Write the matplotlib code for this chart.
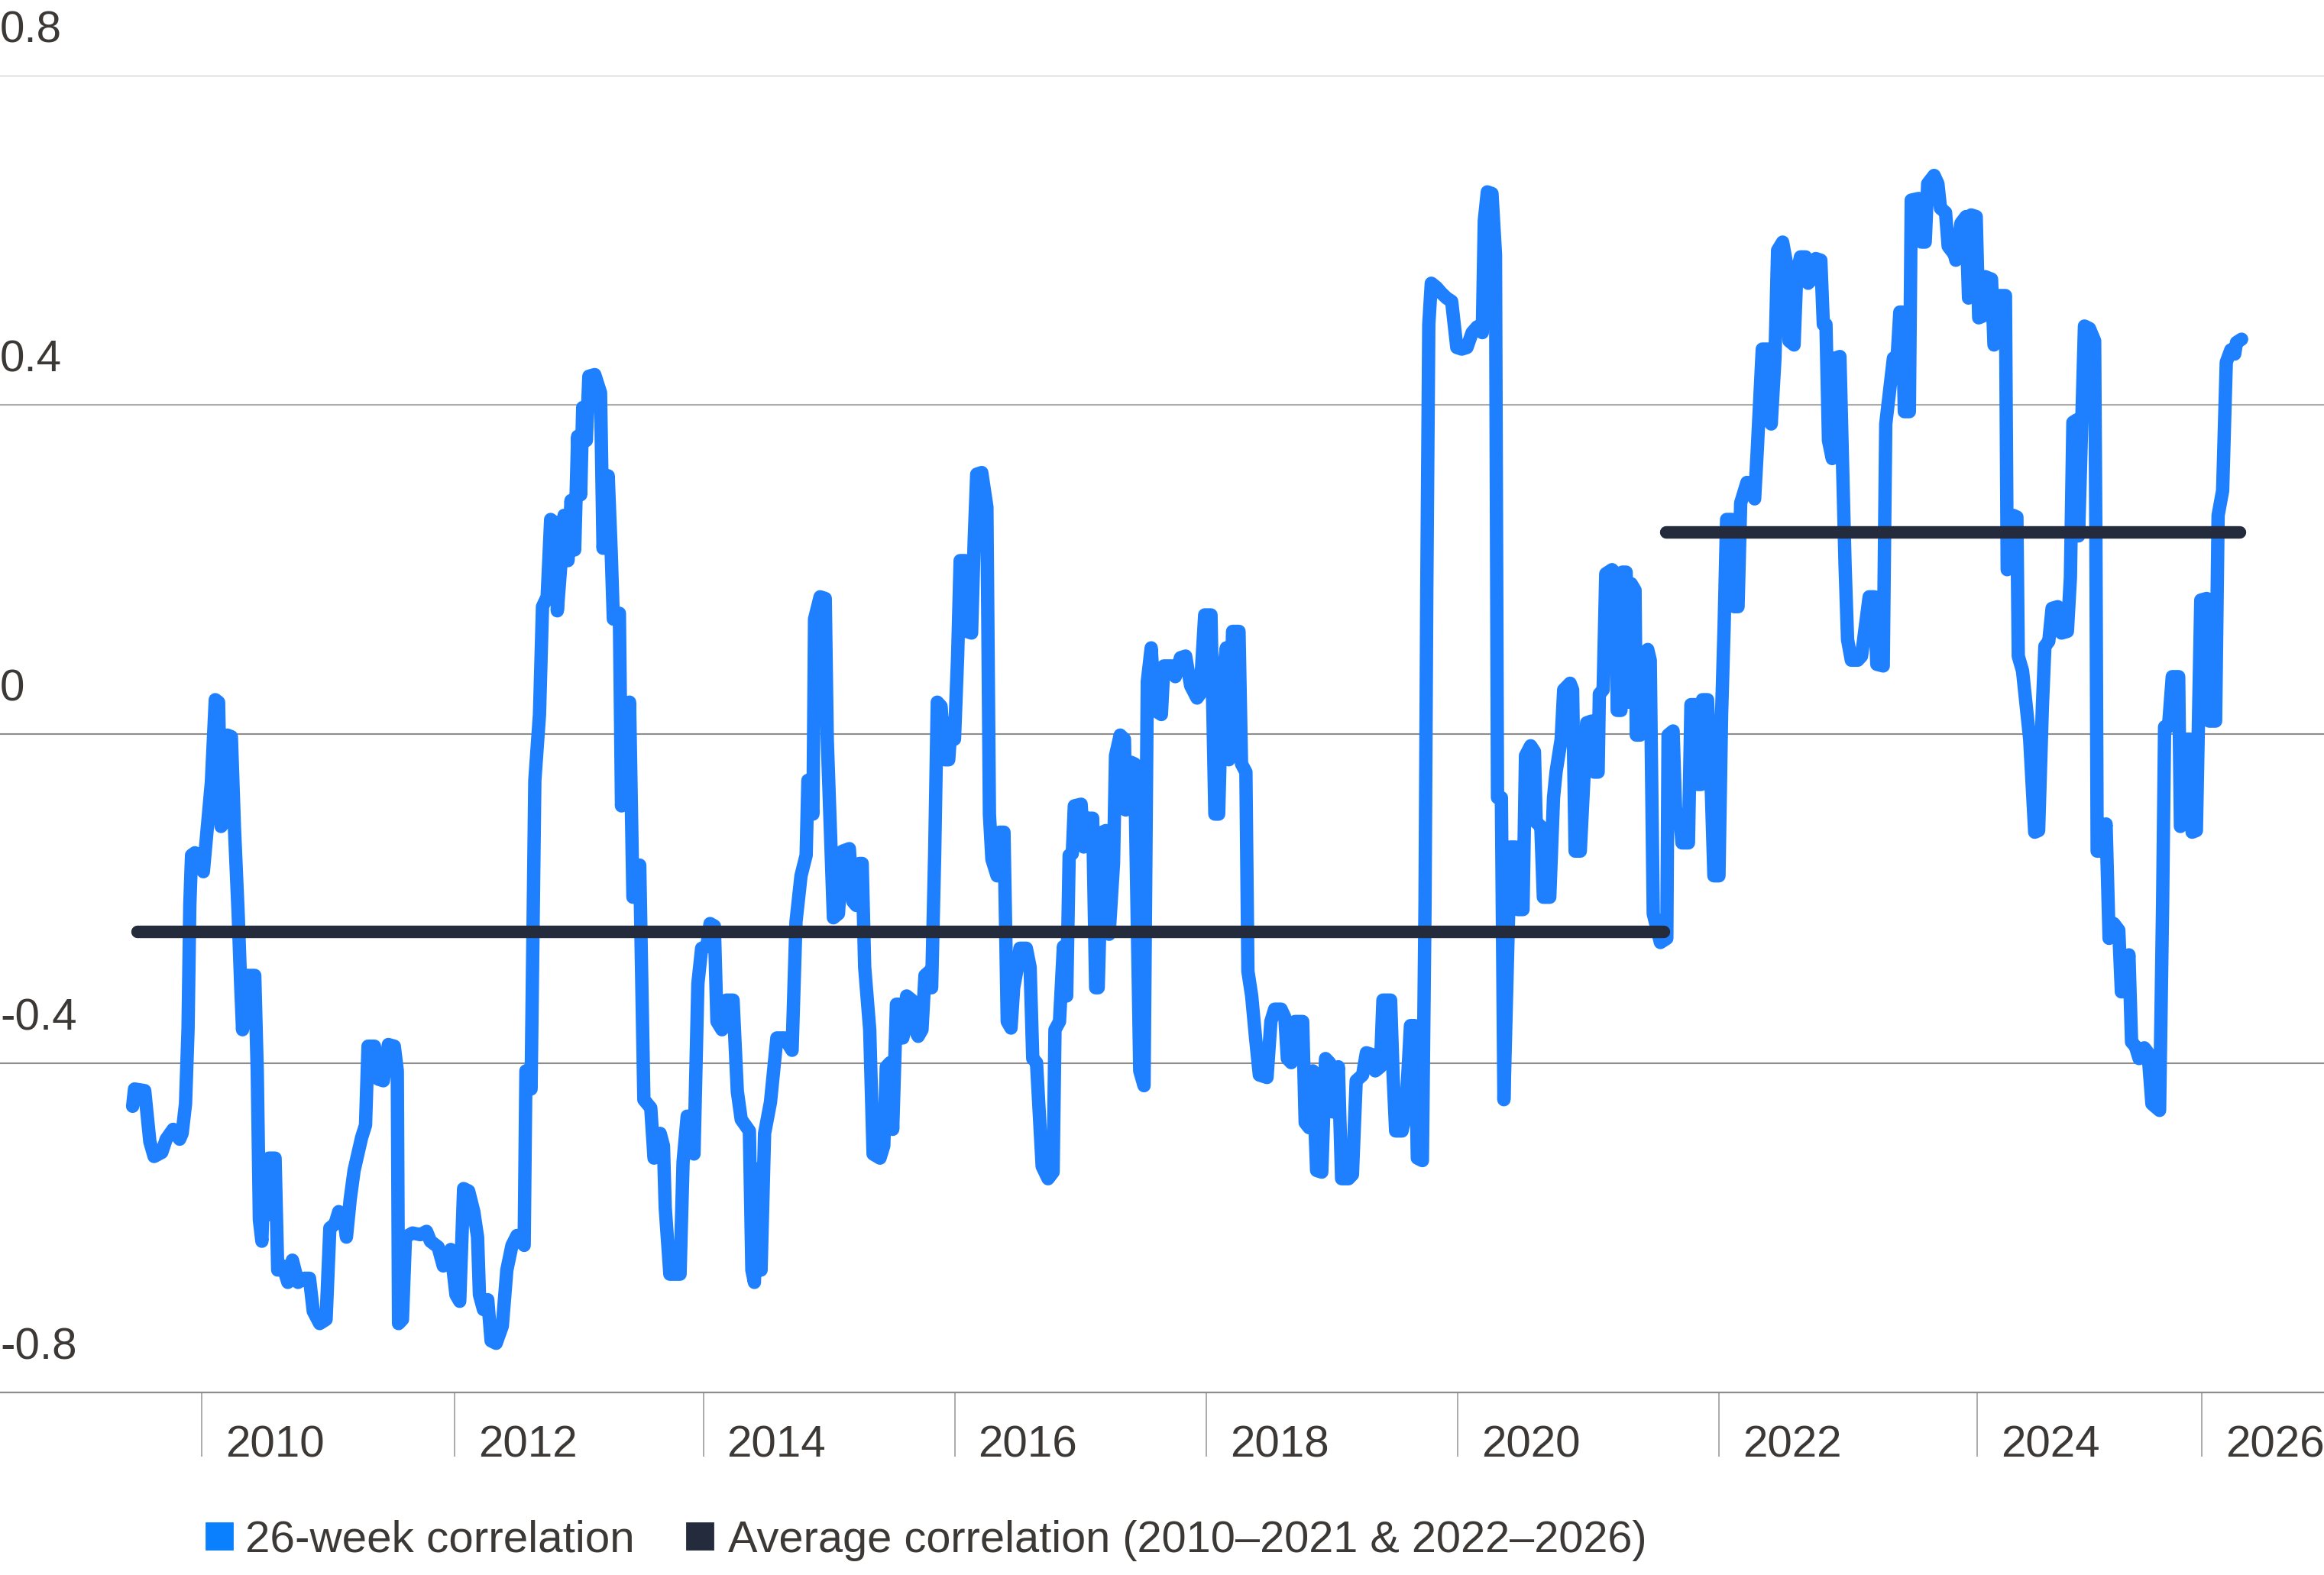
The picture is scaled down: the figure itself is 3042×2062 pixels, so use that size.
import matplotlib.pyplot as plt
from matplotlib.patches import Rectangle
from matplotlib.transforms import ScaledTranslation, blended_transform_factory

plt.rcParams['font.family'] = ['Liberation Sans', 'DejaVu Sans']

# Correlacion a 26 semanas (fecha en anios decimales)
fechas = [
    2009.45, 2009.465, 2009.546, 2009.587, 2009.621, 2009.682, 2009.717, 2009.773, 2009.824, 2009.844,
    2009.871, 2009.891, 2009.905, 2009.919, 2009.946, 2010.013, 2010.077, 2010.108, 2010.134, 2010.154,
    2010.179, 2010.203, 2010.236, 2010.260, 2010.290, 2010.311, 2010.325, 2010.351, 2010.422, 2010.442,
    2010.459, 2010.479, 2010.493, 2010.507, 2010.534, 2010.584, 2010.605, 2010.645, 2010.686, 2010.722,
    2010.767, 2010.817, 2010.858, 2010.888, 2010.939, 2010.990, 2011.020, 2011.061, 2011.091, 2011.128,
    2011.152, 2011.182, 2011.213, 2011.243, 2011.273, 2011.304, 2011.324, 2011.375, 2011.405, 2011.446,
    2011.486, 2011.533, 2011.557, 2011.567, 2011.598, 2011.622, 2011.679, 2011.740, 2011.790,
    # 2012 - 2014
    2011.821, 2011.882, 2011.923, 2011.983, 2012.024, 2012.054, 2012.085, 2012.125, 2012.166, 2012.196,
    2012.211, 2012.243, 2012.277, 2012.304, 2012.344, 2012.393, 2012.429, 2012.470, 2012.510, 2012.567,
    2012.581, 2012.622, 2012.652, 2012.689, 2012.713, 2012.750, 2012.778, 2012.819, 2012.831, 2012.859,
    2012.885, 2012.916, 2012.940, 2012.969, 2012.993, 2013.017, 2013.033, 2013.062, 2013.082, 2013.129,
    2013.175, 2013.195, 2013.236, 2013.260, 2013.277, 2013.325, 2013.342, 2013.406, 2013.433, 2013.487,
    2013.520, 2013.575, 2013.601, 2013.650, 2013.676, 2013.690, 2013.727, 2013.808, 2013.832, 2013.865,
    2013.919, 2013.950, 2013.980, 2014.021, 2014.047, 2014.081, 2014.102, 2014.142, 2014.177, 2014.230,
    # 2014 - 2016
    2014.264, 2014.295, 2014.360, 2014.380, 2014.400, 2014.427, 2014.453, 2014.481, 2014.528, 2014.579,
    2014.639, 2014.700, 2014.731, 2014.771, 2014.812, 2014.826, 2014.866, 2014.879, 2014.923, 2014.964,
    2014.980, 2015.004, 2015.029, 2015.069, 2015.102, 2015.156, 2015.183, 2015.211, 2015.237, 2015.258,
    2015.278, 2015.318, 2015.345, 2015.400, 2015.430, 2015.450, 2015.481, 2015.501, 2015.531, 2015.562,
    2015.582, 2015.612, 2015.653, 2015.677, 2015.704, 2015.734, 2015.758, 2015.795, 2015.811, 2015.835,
    2015.856, 2015.886, 2015.916, 2015.947, 2015.967, 2015.993, 2016.018, 2016.038, 2016.079, 2016.089,
    2016.129, 2016.150, 2016.170, 2016.210, 2016.251, 2016.261, 2016.271, 2016.291, 2016.332, 2016.352,
    2016.387, 2016.413, 2016.443, 2016.464, 2016.494, 2016.514, 2016.565, 2016.595, 2016.616, 2016.646,
    # 2016 - 2019
    2016.691, 2016.738, 2016.778, 2016.793, 2016.829, 2016.860, 2016.886, 2016.906, 2016.931, 2016.947,
    2017.001, 2017.022, 2017.052, 2017.093, 2017.117, 2017.137, 2017.170, 2017.198, 2017.224, 2017.259,
    2017.275, 2017.312, 2017.346, 2017.356, 2017.397, 2017.427, 2017.468, 2017.502, 2017.528, 2017.559,
    2017.589, 2017.640, 2017.660, 2017.721, 2017.751, 2017.792, 2017.833, 2017.873, 2017.924, 2017.948,
    2017.985, 2018.035, 2018.066, 2018.096, 2018.122, 2018.157, 2018.177, 2018.207, 2018.258, 2018.278,
    2018.313, 2018.329, 2018.359, 2018.390, 2018.420, 2018.481, 2018.512, 2018.542, 2018.593, 2018.623,
    2018.643, 2018.674, 2018.704, 2018.765, 2018.785, 2018.816, 2018.846, 2018.876, 2018.917, 2018.947,
    2018.978, 2019.008, 2019.049, 2019.075,
    # 2019 - 2021
    2019.130, 2019.161, 2019.191, 2019.242, 2019.272, 2019.313, 2019.343, 2019.384, 2019.404, 2019.465,
    2019.485, 2019.505, 2019.556, 2019.586, 2019.623, 2019.657, 2019.678, 2019.718, 2019.739, 2019.753,
    2019.769, 2019.789, 2019.830, 2019.870, 2019.911, 2019.951, 2019.992, 2020.032, 2020.073, 2020.114,
    2020.154, 2020.195, 2020.211, 2020.235, 2020.272, 2020.300, 2020.316, 2020.347, 2020.367, 2020.418,
    2020.458, 2020.478, 2020.519, 2020.539, 2020.580, 2020.610, 2020.624, 2020.661, 2020.681, 2020.732,
    2020.762, 2020.782, 2020.823, 2020.843, 2020.894, 2020.914, 2020.934, 2020.975, 2021.026, 2021.066,
    2021.086, 2021.117, 2021.127, 2021.157, 2021.178, 2021.228, 2021.259, 2021.269, 2021.299, 2021.309,
    2021.340, 2021.360, 2021.380, 2021.411, 2021.421, 2021.451, 2021.472, 2021.512,
    # 2021 - 2024
    2021.532, 2021.556, 2021.613, 2021.664, 2021.674, 2021.714, 2021.735, 2021.765, 2021.785, 2021.836,
    2021.856, 2021.887, 2021.907, 2021.937, 2021.948, 2021.988, 2022.018, 2022.039, 2022.079, 2022.100,
    2022.120, 2022.140, 2022.181, 2022.201, 2022.231, 2022.252, 2022.302, 2022.363, 2022.383, 2022.424,
    2022.475, 2022.495, 2022.525, 2022.546, 2022.586, 2022.616, 2022.637, 2022.677, 2022.698, 2022.728,
    2022.769, 2022.789, 2022.819, 2022.850, 2022.890, 2022.910, 2022.931, 2022.951, 2022.981, 2023.002,
    2023.042, 2023.083, 2023.103, 2023.133, 2023.184, 2023.214, 2023.275, 2023.316, 2023.336, 2023.387,
    2023.407, 2023.468, 2023.498, 2023.519, 2023.539, 2023.555, 2023.595, 2023.610, 2023.670, 2023.691,
    2023.721, 2023.741, 2023.792, 2023.822, 2023.843, 2023.883, 2023.904, 2023.954,
    # 2024 - 2026
    2023.965, 2024.006, 2024.046, 2024.066, 2024.087, 2024.127, 2024.147, 2024.178, 2024.198, 2024.249,
    2024.269, 2024.293, 2024.310, 2024.360, 2024.374, 2024.401, 2024.421, 2024.451, 2024.462, 2024.496,
    2024.553, 2024.593, 2024.624, 2024.654, 2024.674, 2024.705, 2024.731, 2024.776, 2024.806, 2024.853,
    2024.877, 2024.897, 2024.928, 2024.942, 2024.989, 2025.029, 2025.070, 2025.080, 2025.090, 2025.131,
    2025.161, 2025.185, 2025.222, 2025.262, 2025.283, 2025.313, 2025.343, 2025.364, 2025.394, 2025.424,
    2025.465, 2025.495, 2025.526, 2025.587, 2025.611, 2025.627, 2025.658, 2025.688, 2025.739, 2025.753,
    2025.779, 2025.805, 2025.830, 2025.846, 2025.880, 2025.915, 2025.962, 2025.982, 2026.033, 2026.053,
    2026.089, 2026.118, 2026.154, 2026.185, 2026.199, 2026.240,
]

correlacion = [
    -0.452, -0.431, -0.433, -0.495, -0.513, -0.508, -0.492, -0.480, -0.492, -0.485,
    -0.449, -0.359, -0.208, -0.147, -0.144, -0.167, -0.058, 0.042, 0.039, -0.112,
    -0.107, -0.001, -0.003, -0.112, -0.218, -0.308, -0.359, -0.293, -0.293, -0.409,
    -0.590, -0.616, -0.540, -0.585, -0.515, -0.515, -0.651, -0.646, -0.666, -0.639,
    -0.666, -0.661, -0.661, -0.701, -0.716, -0.711, -0.600, -0.595, -0.580, -0.585,
    -0.611, -0.565, -0.530, -0.510, -0.490, -0.475, -0.379, -0.379, -0.419, -0.421,
    -0.377, -0.379, -0.409, -0.716, -0.711, -0.611, -0.606, -0.608, -0.604,
    # 2012 - 2014
    -0.616, -0.623, -0.646, -0.626, -0.681, -0.689, -0.552, -0.555, -0.580, -0.611,
    -0.681, -0.699, -0.687, -0.737, -0.740, -0.719, -0.651, -0.621, -0.609, -0.621,
    -0.409, -0.431, -0.056, 0.024, 0.155, 0.167, 0.261, 0.256, 0.150, 0.206,
    0.266, 0.211, 0.284, 0.224, 0.362, 0.291, 0.397, 0.357, 0.435, 0.437,
    0.415, 0.226, 0.314, 0.221, 0.140, 0.147, -0.087, 0.039, -0.198, -0.159,
    -0.444, -0.454, -0.515, -0.485, -0.500, -0.575, -0.656, -0.656, -0.520, -0.464,
    -0.510, -0.303, -0.260, -0.258, -0.230, -0.233, -0.349, -0.359, -0.323, -0.323,
    # 2014 - 2016
    -0.434, -0.468, -0.482, -0.651, -0.666, -0.528, -0.651, -0.485, -0.447, -0.369,
    -0.369, -0.384, -0.228, -0.172, -0.147, -0.056, -0.097, 0.140, 0.167, 0.165,
    -0.006, -0.112, -0.223, -0.218, -0.142, -0.139, -0.203, -0.208, -0.157, -0.157,
    -0.283, -0.359, -0.510, -0.515, -0.500, -0.404, -0.399, -0.480, -0.328, -0.328,
    -0.369, -0.318, -0.323, -0.359, -0.367, -0.359, -0.293, -0.288, -0.308, -0.147,
    0.039, 0.034, -0.031, -0.031, 0.014, -0.006, 0.095, 0.211, 0.211, 0.125,
    0.123, 0.236, 0.316, 0.318, 0.276, 0.095, -0.097, -0.152, -0.172, -0.119,
    -0.119, -0.349, -0.357, -0.308, -0.283, -0.260, -0.260, -0.283, -0.394, -0.399,
    # 2016 - 2019
    -0.525, -0.540, -0.532, -0.359, -0.349, -0.258, -0.318, -0.147, -0.145, -0.087,
    -0.085, -0.137, -0.102, -0.102, -0.308, -0.308, -0.119, -0.117, -0.243, -0.157,
    -0.026, -0.001, -0.006, -0.092, -0.034, -0.036, -0.409, -0.427, 0.064, 0.105,
    0.029, 0.024, 0.083, 0.083, 0.070, 0.093, 0.095, 0.059, 0.044, 0.049,
    0.145, 0.145, -0.097, -0.097, 0.059, 0.105, -0.031, 0.125, 0.125, -0.036,
    -0.046, -0.288, -0.318, -0.369, -0.414, -0.417, -0.349, -0.334, -0.334, -0.344,
    -0.394, -0.399, -0.349, -0.349, -0.472, -0.478, -0.409, -0.530, -0.532, -0.394,
    -0.399, -0.459, -0.404, -0.540,
    # 2019 - 2021
    -0.540, -0.535, -0.421, -0.414, -0.387, -0.389, -0.409, -0.404, -0.323, -0.323,
    -0.414, -0.482, -0.482, -0.459, -0.354, -0.354, -0.515, -0.518, -0.208, 0.175,
    0.498, 0.548, 0.543, 0.536, 0.530, 0.526, 0.470, 0.468, 0.470, 0.488,
    0.495, 0.488, 0.624, 0.659, 0.657, 0.583, -0.077, -0.077, -0.444, -0.137,
    -0.137, -0.213, -0.213, -0.026, -0.014, -0.021, -0.107, -0.112, -0.198, -0.198,
    -0.077, -0.046, -0.006, 0.054, 0.062, 0.054, -0.142, -0.142, 0.014, 0.016,
    -0.046, -0.046, 0.049, 0.054, 0.195, 0.200, 0.195, 0.029, 0.029, 0.197,
    0.197, 0.039, 0.183, 0.175, -0.001, -0.001, 0.095, 0.103,
    # 2021 - 2024
    0.090, -0.218, -0.253, -0.248, -0.001, 0.004, -0.097, -0.097, -0.132, -0.132,
    0.036, 0.036, -0.061, -0.061, 0.042, 0.042, -0.067, -0.172, -0.172, 0.024,
    0.130, 0.261, 0.261, 0.155, 0.155, 0.281, 0.306, 0.286, 0.342, 0.468,
    0.468, 0.377, 0.457, 0.588, 0.598, 0.573, 0.478, 0.473, 0.558, 0.580,
    0.580, 0.548, 0.553, 0.578, 0.576, 0.498, 0.498, 0.357, 0.335, 0.457,
    0.459, 0.206, 0.115, 0.090, 0.090, 0.095, 0.167, 0.167, 0.085, 0.083,
    0.377, 0.457, 0.459, 0.513, 0.513, 0.392, 0.392, 0.649, 0.651, 0.598,
    0.598, 0.669, 0.679, 0.669, 0.639, 0.634, 0.593, 0.583,
    # 2024 - 2026
    0.576, 0.621, 0.629, 0.530, 0.631, 0.629, 0.506, 0.508, 0.556, 0.553,
    0.473, 0.478, 0.533, 0.533, 0.200, 0.204, 0.266, 0.264, 0.095, 0.077,
    -0.006, -0.119, -0.117, 0.034, 0.107, 0.113, 0.153, 0.155, 0.123, 0.125,
    0.190, 0.379, 0.382, 0.241, 0.496, 0.493, 0.478, 0.236, -0.142, -0.142,
    -0.109, -0.248, -0.230, -0.238, -0.313, -0.308, -0.268, -0.374, -0.379, -0.394,
    -0.381, -0.387, -0.449, -0.457, -0.208, 0.009, 0.009, 0.070, 0.070, -0.112,
    -0.107, -0.006, -0.006, -0.119, -0.117, 0.163, 0.165, 0.016, 0.016, 0.266,
    0.296, 0.452, 0.467, 0.462, 0.476, 0.480,
]

# Promedios por periodo
promedio_periodos = [(2009.49, 2021.64), (2021.66, 2026.23)]
promedio_valores = [-0.24, 0.245]

# Eje x: posiciones de las marcas de anio tal como aparecen
anios = ['2010', '2012', '2014', '2016', '2018', '2020', '2022', '2024', '2026']
pos_anios = [2010.0, 2012.013, 2013.993, 2015.994, 2018.0, 2020.0, 2022.08, 2024.136, 2025.924]

niveles_y = [0.8, 0.4, 0.0, -0.4, -0.8]
etiquetas_y = ['0.8', '0.4', '0', '-0.4', '-0.8']

azul = '#1E80FF'
oscuro = '#232B3D'
texto = '#3B3835'
dpi = 200

fig = plt.figure(figsize=(3042 / dpi, 2062 / dpi), dpi=dpi)
ax = fig.add_axes([0, 0.11576, 1, 0.83608])
ax.set_xlim(2008.394, 2026.896)
ax.set_ylim(-0.8, 0.8)

for s in ['top', 'left', 'right']:
    ax.spines[s].set_visible(False)
ax.spines['bottom'].set_color('#8C8C8C')
ax.spines['bottom'].set_linewidth(0.8)

colores_grid = {0.8: '#C4C4C4', 0.4: '#ADADAD', 0.0: '#8C8C8C', -0.4: '#8C8C8C'}
for nivel, c in colores_grid.items():
    ax.axhline(nivel, color=c, lw=0.75, zorder=1)

ax.plot(fechas, correlacion, color=azul, lw=6.3, solid_joinstyle='round',
        solid_capstyle='round', zorder=3)
for (x0, x1), v in zip(promedio_periodos, promedio_valores):
    ax.plot([x0, x1], [v, v], color=oscuro, lw=5.9, solid_capstyle='round', zorder=4)

ax.set_yticks([])
ax.set_xticks(pos_anios)
ax.set_xticklabels([])
ax.tick_params(axis='x', direction='out', length=84 / dpi * 72, width=0.7,
               color='#ABABAB')

# etiquetas del eje y, encima de cada linea
tr_y = blended_transform_factory(ax.transAxes, ax.transData)
for v, et in zip(niveles_y, etiquetas_y):
    ax.text(0.0, v, et, transform=tr_y + ScaledTranslation(0, 44 / dpi, fig.dpi_scale_trans),
            ha='left', va='baseline', fontsize=21, color=texto)

# etiquetas de anio a la derecha de cada marca
tr_x = blended_transform_factory(ax.transData, ax.transAxes)
for p, et in zip(pos_anios, anios):
    ax.text(p, 0, et, transform=tr_x + ScaledTranslation(31 / dpi, -84 / dpi, fig.dpi_scale_trans),
            ha='left', va='baseline', fontsize=21, color=texto, clip_on=False)

# leyenda
fig.patches.append(Rectangle((0.08876, 0.01649), 0.01118, 0.01649,
                             transform=fig.transFigure, color='#0A80FF'))
fig.text(0.10552, 0.01455, '26-week correlation', fontsize=21, color=texto,
         ha='left', va='baseline')
fig.patches.append(Rectangle((0.29553, 0.01649), 0.01118, 0.01649,
                             transform=fig.transFigure, color=oscuro))
fig.text(0.31328, 0.01455, 'Average correlation (2010\u20132021 & 2022\u20132026)',
         fontsize=20.8, color=texto, ha='left', va='baseline')

fig.savefig('out.png', dpi=dpi)
